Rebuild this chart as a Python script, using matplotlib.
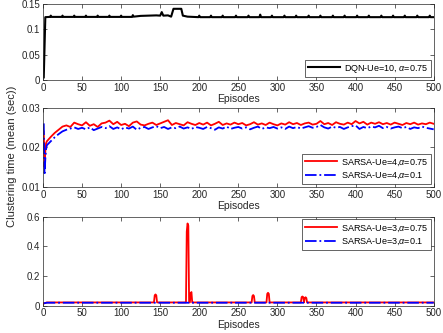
import numpy as np
import matplotlib.pyplot as plt

plt.rcParams['font.family'] = ['Liberation Sans', 'DejaVu Sans']
plt.rcParams['mathtext.fontset'] = 'custom'
plt.rcParams['mathtext.it'] = 'Liberation Sans:italic'

# DQN-Ue=10 (top panel)
dqn_ep = [1, 3, 9, 10, 11, 24, 25, 26, 39, 40, 41, 54, 55, 56, 69, 70, 71,
          84, 85, 86, 99, 100, 101, 114, 115, 116, 125, 135, 145, 150, 152, 154,
          160, 164, 167, 177, 179, 185, 199, 200, 201, 214, 215, 216, 229, 230,
          231, 246, 247, 248, 262, 263, 264, 277, 278, 279, 292, 293, 294, 308,
          309, 310, 323, 324, 325, 339, 340, 341, 354, 355, 356, 370, 371, 372,
          385, 386, 387, 401, 402, 403, 416, 417, 418, 432, 433, 434, 447, 448,
          449, 462, 463, 464, 478, 479, 480, 494, 495, 496, 500]
dqn_val = [0.005, 0.124, 0.1245, 0.127, 0.1245, 0.1245, 0.127, 0.1245, 0.1245,
           0.127, 0.1245, 0.1245, 0.127, 0.1245, 0.1245, 0.127, 0.1245,
           0.1245, 0.127, 0.1245, 0.1245, 0.127, 0.1245, 0.1245, 0.128, 0.125,
           0.1265, 0.127, 0.1275, 0.127, 0.134, 0.127, 0.1275, 0.125, 0.1405,
           0.1405, 0.127, 0.125, 0.124, 0.127, 0.124, 0.124, 0.127, 0.124,
           0.124, 0.127, 0.124, 0.124, 0.127, 0.124, 0.124, 0.127, 0.124,
           0.124, 0.129, 0.124, 0.124, 0.127, 0.124, 0.124, 0.127, 0.124,
           0.124, 0.127, 0.124, 0.124, 0.127, 0.124, 0.124, 0.127, 0.124,
           0.124, 0.127, 0.124, 0.124, 0.127, 0.124, 0.124, 0.127, 0.124,
           0.124, 0.127, 0.124, 0.124, 0.127, 0.124, 0.124, 0.127, 0.124,
           0.124, 0.127, 0.124, 0.124, 0.127, 0.124, 0.124, 0.127, 0.124, 0.124]

# SARSA-Ue=4 (middle panel)
sarsa4_ep = [1, 2, 3, 4] + list(range(5, 501, 5))
sarsa4_a075 = [0.024, 0.015, 0.019, 0.021,
               .0215, .0226, .0236, .0244, .0252, .0255, .0251, .0262, .0258, .0255,
               .0263, .0254, .0258, .0251, .0260, .0262, .0267, .0258, .0264, .0256,
               .0259, .0253, .0262, .0265, .0257, .0255, .0259, .0262, .0256, .0260,
               .0264, .0268, .0256, .0261, .0258, .0255, .0263, .0259, .0256, .0261,
               .0257, .0262, .0255, .0259, .0264, .0256, .0260, .0257, .0262, .0258,
               .0261, .0255, .0258, .0263, .0257, .0260, .0256, .0262, .0258, .0255,
               .0260, .0257, .0263, .0258, .0261, .0256, .0260, .0262, .0257, .0259,
               .0266, .0258, .0261, .0256, .0263, .0259, .0257, .0262, .0258, .0266,
               .0260, .0264, .0257, .0262, .0259, .0263, .0258, .0261, .0257, .0262,
               .0259, .0256, .0261, .0258, .0262, .0257, .0260, .0258, .0262, .0259]
sarsa4_a01 = [0.026, 0.013, 0.017, 0.0195,
              .0205, .0215, .0225, .0233, .0240, .0244, .0247, .0250, .0246, .0249,
              .0245, .0250, .0243, .0247, .0251, .0248, .0253, .0246, .0250, .0245,
              .0250, .0247, .0252, .0244, .0249, .0251, .0246, .0250, .0253, .0248,
              .0251, .0246, .0250, .0248, .0252, .0247, .0250, .0246, .0251, .0249,
              .0246, .0251, .0248, .0244, .0250, .0247, .0252, .0246, .0249, .0251,
              .0247, .0250, .0245, .0249, .0252, .0246, .0250, .0248, .0251, .0247,
              .0250, .0246, .0252, .0248, .0251, .0247, .0250, .0253, .0249, .0251,
              .0256, .0250, .0247, .0252, .0249, .0251, .0246, .0250, .0253, .0255,
              .0246, .0251, .0248, .0252, .0250, .0254, .0248, .0251, .0247, .0250,
              .0252, .0248, .0251, .0246, .0250, .0248, .0252, .0249, .0247, .0245]

# SARSA-Ue=3 (bottom panel)
sarsa3_ep = [1, 5, 142, 143, 144, 145, 146, 183, 184, 185, 186, 187, 188, 189,
             190, 191, 192, 267, 268, 269, 270, 271, 286, 287, 288, 289, 290,
             330, 331, 332, 333, 334, 335, 336, 337, 338, 500]
sarsa3_a075 = [0.015, 0.022, 0.022, 0.07, 0.076, 0.07, 0.022, 0.022, 0.5, 0.555,
               0.54, 0.022, 0.022, 0.085, 0.092, 0.022, 0.022, 0.022, 0.065,
               0.072, 0.065, 0.022, 0.022, 0.08, 0.087, 0.08, 0.022, 0.022,
               0.058, 0.062, 0.058, 0.022, 0.052, 0.057, 0.052, 0.022, 0.022]
sarsa3_ep01 = [1, 5, 500]
sarsa3_a01 = [0.016, 0.020, 0.020]

fig = plt.figure(figsize=(4.43, 3.33), dpi=100)
left, width = 0.097, 0.882
ax1 = fig.add_axes([left, 0.760, width, 0.228])
ax2 = fig.add_axes([left, 0.439, width, 0.238])
ax3 = fig.add_axes([left, 0.082, width, 0.267])

leg_kw = dict(fontsize=6.5, handlelength=3.6, handletextpad=0.4, borderpad=0.3,
              labelspacing=0.25, borderaxespad=0.3, fancybox=False,
              edgecolor='#262626', framealpha=1)

ax1.plot(dqn_ep, dqn_val, color='k', lw=1.5, label=r'DQN-Ue=10, $\alpha$=0.75')
ax1.set_ylim(0, 0.15)
ax1.set_yticks([0, 0.05, 0.1, 0.15])
ax1.set_yticklabels(['0', '0.05', '0.1', '0.15'])
ax1.legend(loc='lower right', **leg_kw)

ax2.plot(sarsa4_ep, sarsa4_a075, color='r', lw=1.3, label=r'SARSA-Ue=4,$\alpha$=0.75')
ax2.plot(sarsa4_ep, sarsa4_a01, color='b', lw=1.3, ls='-.', label=r'SARSA-Ue=4,$\alpha$=0.1')
ax2.set_ylim(0.01, 0.03)
ax2.set_yticks([0.01, 0.02, 0.03])
ax2.set_yticklabels(['0.01', '0.02', '0.03'])
ax2.legend(loc='lower right', **leg_kw)

ax3.plot(sarsa3_ep, sarsa3_a075, color='r', lw=1.3, label=r'SARSA-Ue=3,$\alpha$=0.75')
ax3.plot(sarsa3_ep01, sarsa3_a01, color='b', lw=1.3, ls='-.', label=r'SARSA-Ue=3,$\alpha$=0.1')
ax3.set_ylim(0, 0.6)
ax3.set_yticks([0, 0.2, 0.4, 0.6])
ax3.set_yticklabels(['0', '0.2', '0.4', '0.6'])
ax3.legend(loc='upper right', **leg_kw)

for ax in (ax1, ax2, ax3):
    ax.set_xlim(0, 500)
    ax.set_xticks(range(0, 501, 50))
    ax.tick_params(direction='in', top=True, right=True, labelsize=7,
                   length=3, width=0.5, colors='#262626', pad=2)
    for s in ax.spines.values():
        s.set_linewidth(0.5)
        s.set_color('#262626')
    ax.set_xlabel('Episodes', fontsize=7.5, labelpad=1, color='#262626')
    leg = ax.get_legend()
    leg.get_frame().set_linewidth(0.5)
    leg.get_frame().set_boxstyle('square', pad=0)

fig.text(0.027, 0.53, 'Clustering time (mean (sec))', rotation=90,
         ha='center', va='center', fontsize=8, color='#262626')

fig.savefig('out.png', dpi=100)
